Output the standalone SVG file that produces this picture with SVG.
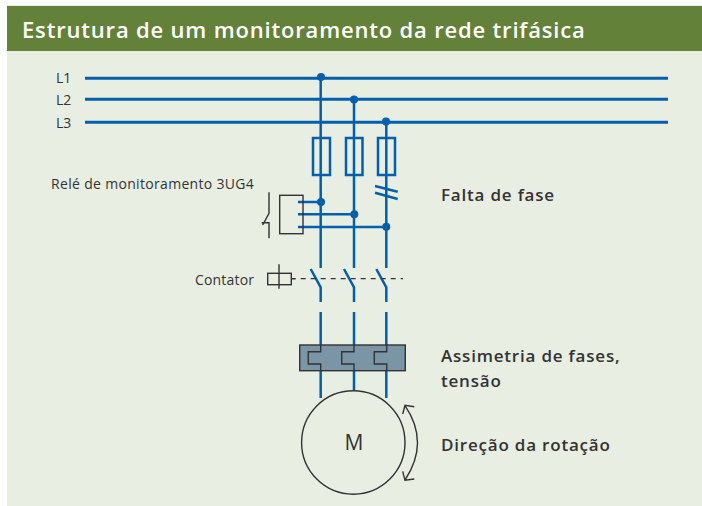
<svg xmlns="http://www.w3.org/2000/svg" width="702" height="506" viewBox="0 0 702 506">
<style>
.w{fill:none;stroke:#0060ae;stroke-width:3}
.t{fill:none;stroke:#0060ae;stroke-width:2.500}
.k{fill:none;stroke:#333;stroke-width:1.400}
.d{fill:#0060ae}
text{font-family:"Open Sans","Noto Sans",sans-serif}
.l{font-size:14px;fill:#333}
.s{font-size:14px;fill:#333;letter-spacing:.18px}
.b{font-size:17px;font-weight:600;fill:#333;letter-spacing:.8px}
</style>
<rect x="7" y="5" width="695" height="501" fill="#e9eee3"/>
<rect x="7" y="6" width="695" height="45" fill="#648139"/>
<text x="22" y="38" font-size="22" font-weight="600" fill="#fff" letter-spacing=".82">Estrutura de um monitoramento da rede trifásica</text>
<g id="connectors">
<path class="w" d="M85 78.300H668M85 99.300H668M85 122.300H668"/>
<path class="t" d="M320.700 78V268M354 99V268M386.300 122V268"/>
<path class="t" d="M298 202H320.700M298 214.300H354M298 227H386.300"/>
<path class="t" d="M310.700 269L320.700 287.300V302M344 269L354 287.300V302M376.300 269L386.300 287.300V302"/>
<path class="t" d="M320.700 312V345M354 312V345M386.300 312V345M320.700 370V398M354 370V391M386.300 370V398"/>
<path d="M295.700 278.700H403" fill="none" stroke="#333" stroke-width="1.300" stroke-dasharray="5 5" stroke-dashoffset="-5"/>
</g>
<g id="junctions">
<circle class="d" cx="321" cy="77" r="4"/><circle class="d" cx="354" cy="99.500" r="4"/><circle class="d" cx="386" cy="121.500" r="4"/>
<circle class="d" cx="321" cy="202" r="4"/><circle class="d" cx="354.300" cy="214.300" r="4"/><circle class="d" cx="386.300" cy="226.700" r="4"/>
</g>
<g id="label-lines">
<text class="l" x="56" y="83">L1</text><text class="l" x="56" y="105">L2</text><text class="l" x="56" y="128">L3</text>
</g>
<g id="fuse-1"><rect class="t" x="313" y="138" width="17" height="37"/></g>
<g id="fuse-2"><rect class="t" x="346" y="138" width="16.500" height="37"/></g>
<g id="fuse-3"><rect class="t" x="378" y="138" width="17" height="37"/></g>
<g id="phase-break"><path class="t" d="M375 186L397.700 191.700M375 192.700L397.700 199"/></g>
<g id="relay">
<text class="s" x="51" y="189" style="letter-spacing:.32px">Relé de monitoramento 3UG4</text>
<rect class="k" x="279.700" y="195.300" width="23.300" height="38.400"/>
<path class="k" d="M269 192.300V213.300L262.700 225M261.700 222.700H269V238.300"/>
</g>
<g id="contactor">
<text class="s" x="195" y="285">Contator</text>
<rect class="k" x="267.700" y="273.300" width="23.600" height="11.400"/>
<path class="k" d="M279 264.300V288.700M291.300 278.700H295.700"/>
</g>
<g id="overload">
<rect x="299.700" y="345" width="105.600" height="25.700" fill="#7a95a6" stroke="#333" stroke-width="1.400"/>
<path class="k" d="M320.700 345V351.700H308.300V364H320.700V370.700M354 345V351.700H341.700V364H354V370.700M386.700 345V351.700H374.300V364H386.700V370.700"/>
</g>
<g id="motor">
<circle cx="353.300" cy="442.500" r="51.700" fill="#e9eee3" stroke="#333" stroke-width="1.400"/>
<text x="354" y="450" font-size="21" fill="#333" text-anchor="middle">M</text>
<path class="k" d="M405 405.700Q430 442.500 405 480M402.700 414L405 405.300L414.300 406.700M402.700 471.300L405 480.300L414.300 479"/>
</g>
<text class="b" x="441" y="201">Falta de fase</text>
<text class="b" x="441" y="362">Assimetria de fases,</text>
<text class="b" x="441" y="387">tensão</text>
<text class="b" x="441" y="451">Direção da rotação</text>
</svg>
